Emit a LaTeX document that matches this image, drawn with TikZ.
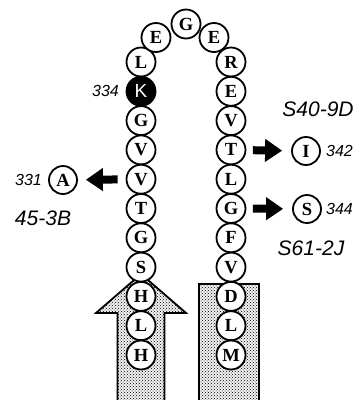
\documentclass[tikz,border=0pt]{standalone}
\usepackage{fontspec}
\setmainfont{Liberation Serif}
\newfontfamily\labfont{Liberation Sans}
\usetikzlibrary{arrows.meta,patterns}
\tikzset{
  res/.style={circle,draw,line width=1.8pt,minimum size=29pt,inner sep=0pt,fill=white,
    font=\bfseries\fontsize{18.5}{18.5}\selectfont},
  kres/.style={res,fill=black,text=white,font=\labfont\fontsize{19}{19}\selectfont},
  mut/.style={res,minimum size=28pt},
  lab/.style={font=\labfont\itshape\fontsize{21}{21}\selectfont,inner sep=0pt},
  num/.style={font=\labfont\itshape\fontsize{16}{16}\selectfont,inner sep=0pt},
  blk/.style={line width=8pt,-{Triangle[length=17pt,width=22pt]}},
}
\begin{document}
\begin{tikzpicture}[x=1pt,y=-1pt]
\useasboundingbox (0,0) rectangle (361,400);
% stippled segments
\fill[black!5] (117.5,400) -- (117.5,313) -- (96,313) -- (141,274) -- (186,313) -- (164.5,313) -- (164.5,400) -- cycle;
\fill[pattern=crosshatch dots,pattern color=black] (117.5,400) -- (117.5,313) -- (96,313) -- (141,274) -- (186,313) -- (164.5,313) -- (164.5,400) -- cycle;
\draw[line width=1.8pt,line join=miter] (117.5,400) -- (117.5,313) -- (96,313) -- (141,274) -- (186,313) -- (164.5,313) -- (164.5,400);
\fill[black!5] (199,400) rectangle (259,284);
\fill[pattern=crosshatch dots,pattern color=black] (199,400) rectangle (259,284);
\draw[line width=1.8pt] (199,400) -- (199,284) -- (259,284) -- (259,400);
% left strand
\node[res] (l1) at (141,62) {L};
\node[kres] (k) at (141,91.3) {K};
\node[res] (l3) at (141,120.6) {G};
\node[res] (l4) at (141,149.9) {V};
\node[res] (l5) at (141,179.2) {V};
\node[res] (l6) at (141,208.5) {T};
\node[res] (l7) at (141,237.8) {G};
\node[res] (l8) at (141,267.1) {S};
\node[res] (l9) at (141,296.4) {H};
\node[res] (l10) at (141,325.7) {L};
\node[res] (l11) at (141,355) {H};
% loop
\node[res] (t1) at (156,37.5) {E};
\node[res] (t3) at (214,37.5) {E};
\node[res] (t2) at (186,24) {G};
% right strand
\node[res] (r1) at (231,62) {R};
\node[res] (r2) at (231,91.3) {E};
\node[res] (r3) at (231,120.6) {V};
\node[res] (r4) at (231,149.9) {T};
\node[res] (r5) at (231,179.2) {L};
\node[res] (r6) at (231,208.5) {G};
\node[res] (r7) at (231,237.8) {F};
\node[res] (r8) at (231,267.1) {V};
\node[res] (r9) at (231,296.4) {D};
\node[res] (r10) at (231,325.7) {L};
\node[res] (r11) at (231,355) {M};
% mutants
\node[mut] (ma) at (63,180) {A};
\node[mut] (mi) at (306,151) {I};
\node[mut] (ms) at (307,209) {S};
\draw[blk,shorten <=8pt,shorten >=8pt] (l5) -- (ma);
\draw[blk,shorten <=6.5pt,shorten >=9pt] (r4) -- (mi);
\draw[blk,shorten <=6.5pt,shorten >=9pt] (r6) -- (ms);
% labels
\node[num,anchor=east] (n334) at (119,91) {334};
\node[num,anchor=east] (n331) at (42,180) {331};
\node[num,anchor=west] (n342) at (326,151) {342};
\node[num,anchor=west] (n344) at (326,209) {344};
\node[lab] (s40) at (318,109) {S40-9D};
\node[lab] (s61) at (311,248) {S61-2J};
\node[lab] (s45) at (43,218) {45-3B};
\end{tikzpicture}
\end{document}
